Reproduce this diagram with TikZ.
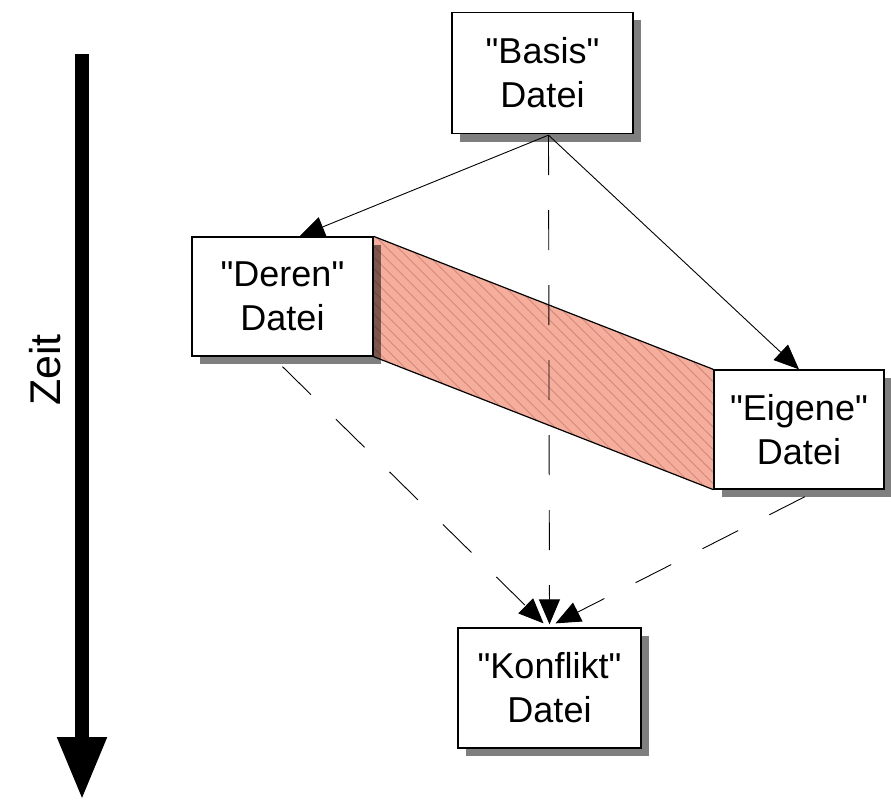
\documentclass[tikz,border=0pt]{standalone}
\usepackage{fontspec}
\setmainfont{Liberation Sans}[Ligatures=TeXOff]
\usetikzlibrary{arrows.meta,shadows,backgrounds,patterns.meta}
\definecolor{bandsalmon}{HTML}{F5AE9C}
\definecolor{bandhatch}{HTML}{D5877A}
\tikzset{
  datei/.style={rectangle, draw, line width=1.3pt, fill=white, align=center,
    font=\fontsize{36}{44}\selectfont, inner sep=0pt,
    drop shadow={shadow xshift=8pt, shadow yshift=-8pt, fill=black, opacity=0.5}},
  pfeil/.style={line width=0.9pt, -{Triangle[length=25pt,width=21pt]}},
  strich/.style={pfeil, dash pattern=on 40pt off 35pt},
}
\begin{document}
\begin{tikzpicture}[x=1pt,y=-1pt]
\useasboundingbox (0,0) rectangle (891,800);
% Zeitachse
\coordinate (zoben) at (82,54);
\coordinate (zunten) at (82,800);
\draw[line width=14pt, -{Triangle[length=63pt,width=46pt]}] (zoben) -- (zunten);
\node[rotate=90, font=\fontsize{43}{48}\selectfont] (zeit) at (45,370) {Zeit};
% Dateien
\node[datei, minimum width=181pt, minimum height=121pt] (basis) at (542.5,73) {"Basis"\\Datei};
\node[datei, minimum width=181pt, minimum height=119pt] (deren) at (282.5,296.5) {"Deren"\\Datei};
\node[datei, minimum width=170pt, minimum height=119pt] (eigene) at (799,429.5) {"Eigene"\\Datei};
\node[datei, minimum width=183pt, minimum height=120pt] (konflikt) at (549.5,688) {"Konflikt"\\Datei};
% Unterschied
\begin{pgfonlayer}{background}
\fill[bandsalmon] (deren.north east) -- (eigene.north west) -- (eigene.south west) -- (deren.south east) -- cycle;
\fill[pattern={Lines[angle=-45,distance=8pt,line width=0.9pt]}, pattern color=bandhatch]
  (deren.north east) -- (eigene.north west) -- (eigene.south west) -- (deren.south east) -- cycle;
\draw[line width=1.2pt] (deren.north east) -- (eigene.north west);
\draw[line width=1.2pt] (deren.south east) -- (eigene.south west);
\end{pgfonlayer}
% Pfeile
\coordinate (bs) at ([xshift=6pt, yshift=-1pt]basis.south);
\draw[pfeil] (bs) -- ([xshift=17pt]deren.north);
\draw[pfeil] (bs) -- (eigene.north);
\draw[strich] (bs) -- ([yshift=3pt]konflikt.north);
\draw[strich] ([yshift=-10pt]deren.south) -- ([xshift=-6pt, yshift=4pt]konflikt.north);
\draw[strich] ([xshift=6pt, yshift=-7pt]eigene.south) -- ([xshift=6pt, yshift=4pt]konflikt.north);
\end{tikzpicture}
\end{document}
